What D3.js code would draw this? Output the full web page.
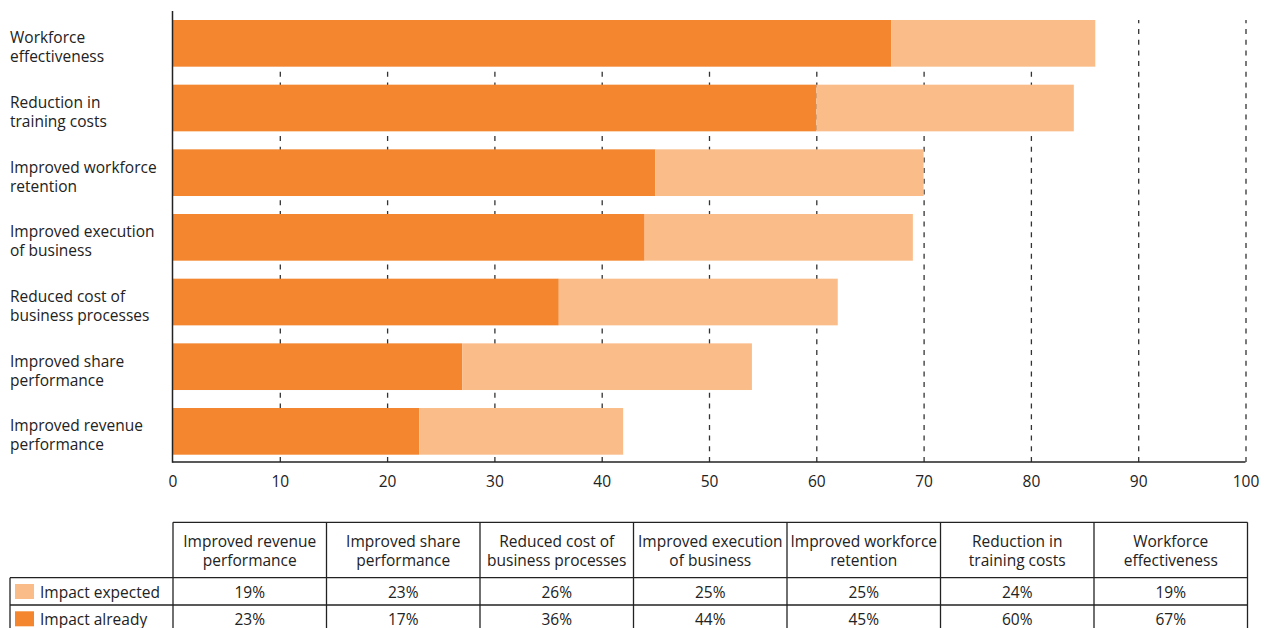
<!DOCTYPE html>
<html lang="en">
<head>
<meta charset="UTF-8">
<title>Impact chart</title>
<script src="https://d3js.org/d3.v7.min.js"></script>
<style>
  body { margin: 0; background: #fff; }
  svg text { font-family: "Open Sans", sans-serif; fill: #222; }
  .grid line { stroke: #333; stroke-width: 1.3; stroke-dasharray: 5 5.7; }
  .grid .domain { display: none; }
  .x-axis .domain { stroke: #222; stroke-width: 1.5; }
  .x-axis text { font-size: 15.5px; }
</style>
</head>
<body>
<svg width="1268" height="628"></svg>
<script>
// categories in table order (bottom bar first)
const categories = [
  ["Improved revenue", "performance"],
  ["Improved share", "performance"],
  ["Reduced cost of", "business processes"],
  ["Improved execution", "of business"],
  ["Improved workforce", "retention"],
  ["Reduction in", "training costs"],
  ["Workforce", "effectiveness"]
];
// bar lengths as drawn
const impactAlready = [23, 27, 36, 44, 45, 60, 67];
const impactExpected = [19, 27, 26, 25, 25, 24, 19];
// table texts as printed
const expectedLabels = ["19%", "23%", "26%", "25%", "25%", "24%", "19%"];
const alreadyLabels = ["23%", "17%", "36%", "44%", "45%", "60%", "67%"];
const seriesNames = ["Impact expected", "Impact already"];
const xTicks = [0, 10, 20, 30, 40, 50, 60, 70, 80, 90, 100];

const colDark = "#f3862e";
const colLight = "#fabd8a";
const fs = "15.5px";

const svg = d3.select("svg");
const plotLeft = 172.5, plotRight = 1245.5, plotTop = 20, axisY = 462;

const x = d3.scaleLinear().domain([0, 100]).range([plotLeft, plotRight]);
const keys = d3.range(categories.length);
const y = d3.scaleBand()
  .domain(keys.slice().reverse())
  .range([plotTop, plotTop + 7 * 64.67 - 18])
  .paddingInner(18 / 64.67)
  .paddingOuter(0);

// dashed grid
svg.append("g")
  .attr("class", "grid")
  .attr("transform", `translate(0,${axisY})`)
  .call(d3.axisBottom(x).tickValues(xTicks.slice(1)).tickSize(-(axisY - plotTop)).tickFormat(""));

// bars
const rows = keys.map(i => ({ i, a: impactAlready[i], e: impactExpected[i] }));
svg.append("g").selectAll("rect.already")
  .data(rows).enter().append("rect")
  .attr("x", x(0))
  .attr("y", d => y(d.i))
  .attr("width", d => x(d.a) - x(0))
  .attr("height", y.bandwidth())
  .attr("fill", colDark);
svg.append("g").selectAll("rect.expected")
  .data(rows).enter().append("rect")
  .attr("x", d => x(d.a))
  .attr("y", d => y(d.i))
  .attr("width", d => x(d.a + d.e) - x(d.a))
  .attr("height", y.bandwidth())
  .attr("fill", colLight);

// x axis
const xa = svg.append("g")
  .attr("class", "x-axis")
  .attr("transform", `translate(0,${axisY})`)
  .call(d3.axisBottom(x).tickValues(xTicks).tickSize(0).tickPadding(13.5));
xa.select(".domain").attr("d", `M${plotLeft},0H${plotRight}`);

// y axis line
svg.append("line")
  .attr("x1", plotLeft).attr("x2", plotLeft)
  .attr("y1", 11).attr("y2", axisY + 0.75)
  .attr("stroke", "#222").attr("stroke-width", 1.5);

// category labels
const lab = svg.append("g").selectAll("text")
  .data(rows).enter().append("text")
  .attr("x", 10)
  .attr("y", d => y(d.i) + y.bandwidth() / 2)
  .style("font-size", fs);
lab.each(function(d) {
  const t = d3.select(this);
  categories[d.i].forEach((s, k) => {
    t.append("tspan").attr("x", 10).attr("dy", k === 0 ? 0 : 19).text(s);
  });
});

// table
const tx0 = 173, colW = 153.5;
const hTop = 522.3, hBot = 577.7, rowH = 27.3;
const tx = d3.scaleLinear().domain([0, 7]).range([tx0, tx0 + 7 * colW]);
const tbl = svg.append("g").attr("stroke", "#222").attr("stroke-width", 1.3);

// horizontal lines
tbl.append("line").attr("x1", tx(0)).attr("x2", tx(7)).attr("y1", hTop).attr("y2", hTop);
[hBot, hBot + rowH, hBot + 2 * rowH].forEach(yy => {
  tbl.append("line").attr("x1", 10).attr("x2", tx(7)).attr("y1", yy).attr("y2", yy);
});
// vertical lines
d3.range(8).forEach(k => {
  tbl.append("line").attr("x1", tx(k)).attr("x2", tx(k)).attr("y1", hTop).attr("y2", 640);
});
tbl.append("line").attr("x1", 10).attr("x2", 10).attr("y1", hBot).attr("y2", 640);

// header text
keys.forEach(i => {
  const t = svg.append("text")
    .attr("x", tx(i) + colW / 2)
    .attr("y", 547.3)
    .attr("text-anchor", "middle")
    .style("font-size", fs);
  categories[i].forEach((s, k) => {
    t.append("tspan").attr("x", tx(i) + colW / 2).attr("dy", k === 0 ? 0 : 18.5).text(s);
  });
});

// data rows
[expectedLabels, alreadyLabels].forEach((arr, r) => {
  svg.append("g").selectAll("text")
    .data(arr).enter().append("text")
    .attr("x", (d, i) => tx(i) + colW / 2)
    .attr("y", hBot + r * rowH + 20.5 - r)
    .attr("text-anchor", "middle")
    .style("font-size", fs)
    .text(d => d);
});

// legend
seriesNames.forEach((s, r) => {
  svg.append("rect")
    .attr("x", 15).attr("y", hBot + r * rowH + 6.3)
    .attr("width", 19).attr("height", 15)
    .attr("fill", r === 0 ? colLight : colDark);
  svg.append("text")
    .attr("x", 40).attr("y", hBot + r * rowH + 20.5 - r)
    .style("font-size", fs)
    .text(s);
});
</script>
</body>
</html>
